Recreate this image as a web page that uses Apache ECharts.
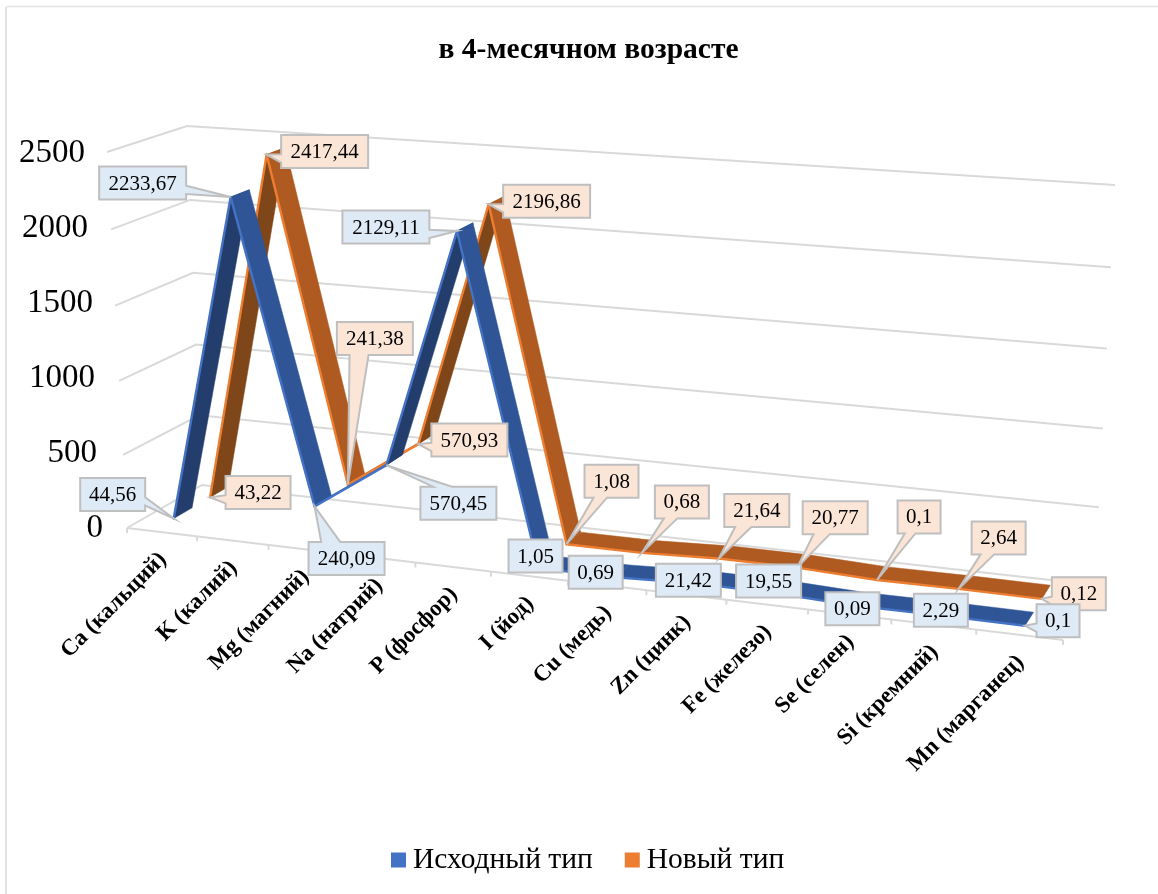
<!DOCTYPE html>
<html><head><meta charset="utf-8">
<style>html,body{margin:0;padding:0;background:#fff}#c{width:1158px;height:894px}</style>
<script src="https://cdn.jsdelivr.net/npm/echarts@6/dist/echarts.min.js"></script>
</head><body><div id="c"></div>
<script>
const categories = ['Ca (кальций)','K (калий)','Mg (магний)','Na (натрий)','P (фосфор)','I (йод)','Cu (медь)','Zn (цинк)','Fe (железо)','Se (селен)','Si (кремний)','Mn (марганец)'];
const valuesOld = [44.56,2233.67,240.09,570.45,2129.11,1.05,0.69,21.42,19.55,0.09,2.29,0.1];
const valuesNew = [43.22,2417.44,241.38,570.93,2196.86,1.08,0.68,21.64,20.77,0.1,2.64,0.12];
const yTicks = [0,500,1000,1500,2000,2500];
const nameOld = 'Исходный тип', nameNew = 'Новый тип';
const titleText = 'в 4-месячном возрасте';

// callout box offsets from the point they label (layout only)
const calloutOffsetsOld = [[-61,-24],[-88,-14],[32,52],[72,38],[-71,-4],[-3,-12],[-20,-5],[-6,-3],[-6,-12],[-4,3],[1,-5],[33,-5]];
const calloutOffsetsNew = [[48,-5],[58,-3],[27,-146],[51,-4],[58,-3],[45,-63],[40,-51],[38,-48],[38,-50],[42,-63],[40,-51],[37,-5]];

// oblique view of the plot box: corners named front/back, left/right, bottom/top
const box = {
  flb:[127,528], flt:[107,152], frb:[1063,640], frt:[1078,223],
  blb:[202,485], blt:[187,126], brb:[1095,585], brt:[1115,185]
};
const warp = (t,k) => t/(t+k*(1-t));
const PERSP_U = 1.123, PERSP_V = 1.037;
const mix = (a,b,t) => [a[0]+(b[0]-a[0])*t, a[1]+(b[1]-a[1])*t];
function project(u,v,d){
  const tu = warp(u,PERSP_U), tv = warp(v,PERSP_V);
  const fb = mix(box.flb,box.frb,tu), ft = mix(box.flt,box.frt,tu);
  const bb = mix(box.blb,box.brb,tu), bt = mix(box.blt,box.brt,tu);
  return mix(mix(fb,ft,tv), mix(bb,bt,tv), d);
}
// data coords -> library scale -> normalised -> oblique view
function toView(params, api, i, val, d){
  const cs = params.coordSys, p = api.coord([i,val]);
  return project((p[0]-cs.x)/cs.width, (cs.y+cs.height-p[1])/cs.height, d);
}
const SERIF = '"Liberation Serif","Times New Roman",serif';
const GRID = '#D9D9D9';
const depthOld = [0.165,0.415], depthNew = [0.66,0.91];

function gridLineItem(params, api){
  const cs = params.coordSys, y = api.coord([0,api.value(1)])[1], vn = (cs.y+cs.height-y)/cs.height;
  return {type:'polyline', silent:true,
    shape:{points:[project(0,vn,0), project(0,vn,1), project(1,vn,1)]},
    style:{fill:'none', stroke:GRID, lineWidth:2}};
}
function catAxisItem(params, api){
  const i = api.value(0), n = categories.length;
  const kids = [];
  const a = project(i/n,0,0);
  kids.push({type:'line', shape:{x1:a[0],y1:a[1],x2:a[0],y2:a[1]+5}, style:{stroke:GRID,lineWidth:2}});
  if(i===n-1){
    const e = project(1,0,0);
    kids.push({type:'line', shape:{x1:e[0],y1:e[1],x2:e[0],y2:e[1]+5}, style:{stroke:GRID,lineWidth:2}});
    const s = project(0,0,0);
    kids.push({type:'line', shape:{x1:s[0],y1:s[1],x2:e[0],y2:e[1]}, style:{stroke:GRID,lineWidth:2}});
  }
  const c = project((i+.5)/n,0,0);
  kids.push({type:'text', x:c[0]+1, y:c[1]+24, rotation:Math.PI/4,
    style:{text:categories[i], align:'right', verticalAlign:'middle', font:'bold 23px '+SERIF, fill:'#000'}});
  return {type:'group', children:kids};
}
function ribbonItem(depth, cols){
  return function(params, api){
    const i = params.dataIndexInside, n = params.dataInsideLength;
    if(i>=n-1) return null;
    const x0 = api.value(0), v0 = api.value(1), x1 = api.value(0,i+1), v1 = api.value(1,i+1);
    const a = toView(params,api,x0,v0,depth[0]), b = toView(params,api,x1,v1,depth[0]);
    const c = toView(params,api,x1,v1,depth[1]), e = toView(params,api,x0,v0,depth[1]);
    const cross = (b[0]-a[0])*(e[1]-a[1])-(b[1]-a[1])*(e[0]-a[0]);
    const fill = cross>0 ? cols.under : cols.top;
    return {type:'group', children:[
      {type:'polygon', shape:{points:[a,b,c,e]}, style:{fill:fill, stroke:fill, lineWidth:.5}},
      {type:'line', shape:{x1:a[0],y1:a[1],x2:b[0],y2:b[1]}, style:{stroke:cols.edge,lineWidth:2.4,lineCap:'round'}}
    ]};
  };
}
function calloutItem(depth, offsets, fill){
  return function(params, api){
    const idx = params.dataIndexInside, val = api.value(1);
    const p = toView(params,api,api.value(0),val,depth);
    const label = String(val).replace('.',',');
    const w = 11*label.length+10, h = 33;
    const cx = p[0]+offsets[idx][0], cy = p[1]+offsets[idx][1];
    const L=cx-w/2, R=cx+w/2, T=cy-h/2, B=cy+h/2;
    const dx=(p[0]-cx)/(w/2), dy=(p[1]-cy)/(h/2);
    let pts;
    if(Math.abs(dx)<=1 && Math.abs(dy)<=1){
      pts=[[L,T],[R,T],[R,B],[L,B]];
    } else if(Math.abs(dx)>Math.abs(dy)){
      const y1 = dy<0 ? T+h/6 : T+h*7/12, y2 = dy<0 ? T+h*5/12 : T+h*5/6;
      pts = dx>0 ? [[L,T],[R,T],[R,y1],p,[R,y2],[R,B],[L,B]]
                 : [[L,T],[R,T],[R,B],[L,B],[L,y2],p,[L,y1]];
    } else {
      const x1 = dx<0 ? L+w/6 : L+w*7/12, x2 = dx<0 ? L+w*5/12 : L+w*5/6;
      pts = dy>0 ? [[L,T],[R,T],[R,B],[x2,B],p,[x1,B],[L,B]]
                 : [[L,T],[x1,T],p,[x2,T],[R,T],[R,B],[L,B]];
    }
    return {type:'group', children:[
      {type:'polygon', shape:{points:pts}, style:{fill:fill, stroke:'#BFBFBF', lineWidth:2}},
      {type:'text', x:cx, y:cy+1, style:{text:label, align:'center', verticalAlign:'middle', font:'21px '+SERIF, fill:'#000'}}
    ]};
  };
}
const toData = arr => arr.map((v,i)=>[i,v]);
const colsOld = {under:'#233E6C', top:'#2F5597', edge:'#4472C4'};
const colsNew = {under:'#7E4619', top:'#AE5A21', edge:'#ED7D31'};
const labelPad = {0:0,500:6,1000:8,1500:10,2000:15,2500:18};
const rich = {};
yTicks.forEach(t=>{ rich['t'+t] = {padding:[0,labelPad[t],0,0], fontSize:33, fontFamily:SERIF, color:'#000'}; });

const chart = echarts.init(document.getElementById('c'), null, {renderer:'canvas', width:1158, height:894});
chart.setOption({
  animation:false,
  backgroundColor:'#fff',
  title:{text:titleText, left:583.5, top:30, textAlign:'center',
    textStyle:{fontFamily:SERIF, fontWeight:'bold', fontSize:29.5, color:'#000'}},
  legend:{left:386, top:840, icon:'rect', itemWidth:15, itemHeight:15, itemGap:32,
    data:[nameOld,nameNew], selectedMode:false,
    textStyle:{fontFamily:SERIF, fontSize:29.5, color:'#000', padding:[0,0,0,2]}},
  grid:{left:103, top:153, width:960, height:375, containLabel:false},
  xAxis:{type:'category', data:categories, show:false},
  yAxis:{type:'value', min:0, max:2500, interval:500,
    axisLine:{show:false}, axisTick:{show:false}, splitLine:{show:false},
    axisLabel:{margin:0, formatter:v=>'{t'+v+'|'+v+'}', rich:rich}},
  graphic:[
    {type:'line', silent:true, shape:{x1:6,y1:7,x2:6,y2:894}, style:{stroke:'#E3E3E3',lineWidth:2}},
    {type:'line', silent:true, shape:{x1:6,y1:6.5,x2:1158,y2:6.5}, style:{stroke:'#E3E3E3',lineWidth:1.5}}
  ],
  series:[
    {type:'custom', name:'grid', renderItem:gridLineItem, data:yTicks.map(t=>[0,t]), z:1, silent:true},
    {type:'custom', name:'axis', renderItem:catAxisItem, data:categories.map((c,i)=>[i,0]), z:1, silent:true},
    {type:'custom', name:nameNew, renderItem:ribbonItem(depthNew,colsNew), data:toData(valuesNew), z:2, itemStyle:{color:'#ED7D31'}, silent:true},
    {type:'custom', name:nameOld, renderItem:ribbonItem(depthOld,colsOld), data:toData(valuesOld), z:3, itemStyle:{color:'#4472C4'}, silent:true},
    {type:'custom', name:'labelsNew', renderItem:calloutItem(depthNew[0],calloutOffsetsNew,'#FBE5D6'), data:toData(valuesNew), z:4, silent:true},
    {type:'custom', name:'labelsOld', renderItem:calloutItem(depthOld[0],calloutOffsetsOld,'#DEEAF6'), data:toData(valuesOld), z:5, silent:true}
  ]
});
</script></body></html>
